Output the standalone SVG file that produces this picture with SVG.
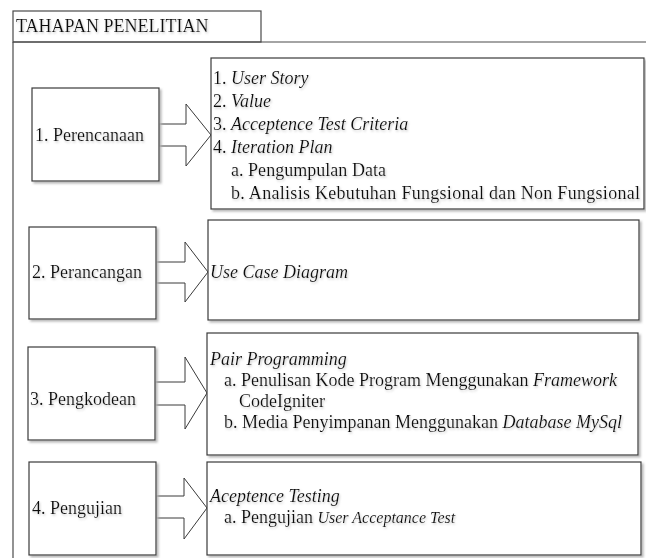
<svg xmlns="http://www.w3.org/2000/svg" width="646" height="558" viewBox="0 0 646 558">
<defs>
<filter id="sh" x="-5%" y="-5%" width="115%" height="120%">
<feDropShadow dx="2" dy="2" stdDeviation="0.8" flood-color="#b0b0b0" flood-opacity="0.9"/>
</filter>
<filter id="tsh" x="-5%" y="-20%" width="115%" height="150%">
<feDropShadow dx="1" dy="1.5" stdDeviation="0.9" flood-color="#c8c8c8" flood-opacity="0.9"/>
</filter>
</defs>
<style>
.frame{fill:none;stroke:#4a4a4a;stroke-width:1.2}
.box{fill:#fff;stroke:#3a3a3a;stroke-width:1.2;filter:url(#sh)}
.arr{fill:#fff;stroke:#3a3a3a;stroke-width:1}
text{font-family:"Liberation Serif","Times New Roman",serif;font-size:18px;fill:#111;filter:url(#tsh)}
.i{font-style:italic}
.s{font-size:16px}
</style>
<rect width="646" height="558" fill="#fff"/>
<g id="frame">
<rect class="frame" x="13" y="11" width="248" height="31"/>
<line class="frame" x1="13" y1="42" x2="646" y2="42"/>
<line class="frame" x1="13" y1="42" x2="13" y2="558"/>
<text x="16" y="32">TAHAPAN PENELITIAN</text>
</g>
<g id="connectors">
<polygon class="arr" points="159,124 186,124 186,104 211,135 186,166 186,146 159,146"/>
<polygon class="arr" points="156,262 185,262 185,242 208,272 185,302 185,283 156,283"/>
<polygon class="arr" points="155,382 185,382 185,357 207,393 185,429 185,405 155,405"/>
<polygon class="arr" points="156,496 184,496 184,478 207,508 184,539 184,518 156,518"/>
</g>
<g id="perencanaan">
<rect class="box" x="32" y="88" width="127" height="93"/>
<text x="35" y="141">1. Perencanaan</text>
</g>
<g id="perencanaan-detail">
<rect class="box" x="211" y="58" width="433" height="151"/>
<text x="213" y="84">1. <tspan class="i">User Story</tspan></text>
<text x="213" y="107">2. <tspan class="i">Value</tspan></text>
<text x="213" y="130">3. <tspan class="i">Acceptence Test Criteria</tspan></text>
<text x="213" y="153">4. <tspan class="i">Iteration Plan</tspan></text>
<text x="231" y="176" textLength="155">a. Pengumpulan Data</text>
<text x="231" y="199" textLength="409">b. Analisis Kebutuhan Fungsional dan Non Fungsional</text>
</g>
<g id="perancangan">
<rect class="box" x="29" y="227" width="127" height="92"/>
<text x="32" y="278">2. Perancangan</text>
</g>
<g id="perancangan-detail">
<rect class="box" x="208" y="220" width="431" height="100"/>
<text class="i" x="210" y="278">Use Case Diagram</text>
</g>
<g id="pengkodean">
<rect class="box" x="28" y="347" width="127" height="93"/>
<text x="30" y="405">3. Pengkodean</text>
</g>
<g id="pengkodean-detail">
<rect class="box" x="207" y="333" width="431" height="122"/>
<text class="i" x="210" y="365">Pair Programming</text>
<text x="224" y="386">a. Penulisan Kode Program Menggunakan <tspan class="i">Framework</tspan></text>
<text x="239" y="407">CodeIgniter</text>
<text x="224" y="428">b. Media Penyimpanan Menggunakan <tspan class="i">Database MySql</tspan></text>
</g>
<g id="pengujian">
<rect class="box" x="29" y="462" width="127" height="93"/>
<text x="32" y="514">4. Pengujian</text>
</g>
<g id="pengujian-detail">
<rect class="box" x="207" y="462" width="434" height="93"/>
<text class="i" x="210" y="502">Aceptence Testing</text>
<text x="224" y="523">a. Pengujian <tspan class="i s">User Acceptance Test</tspan></text>
</g>
</svg>
